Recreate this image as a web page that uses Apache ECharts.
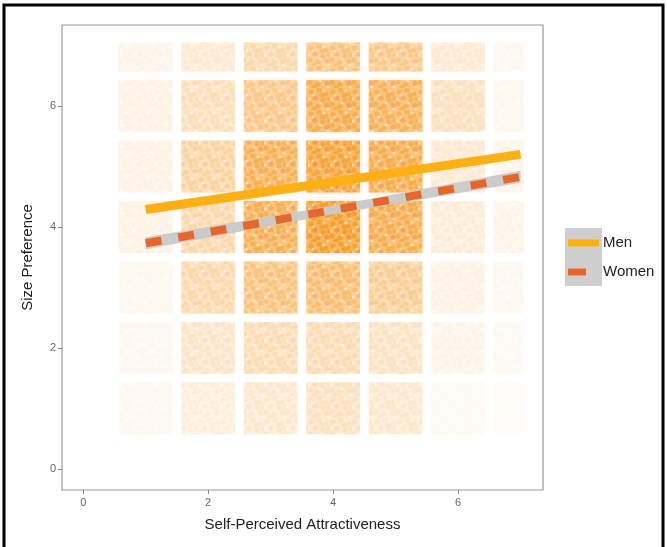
<!DOCTYPE html>
<html>
<head>
<meta charset="utf-8">
<script src="https://cdn.jsdelivr.net/npm/echarts@6/dist/echarts.min.js"></script>
<style>
html,body{margin:0;padding:0;background:#fff;}
#chart{width:667px;height:547px;}
</style>
</head>
<body>
<div id="chart"></div>
<script>
// ---- data ----
const attractivenessLevels = [1, 2, 3, 4, 5, 6, 7];   // x categories (jittered columns)
const preferenceLevels = [1, 2, 3, 4, 5, 6, 7];       // y categories (jittered rows)
// relative point density of each cell, rows = preference 1..7, cols = attractiveness 1..7
const densityRow1 = [0.07, 0.16, 0.22, 0.28, 0.22, 0.05, 0.04];
const densityRow2 = [0.07, 0.24, 0.32, 0.32, 0.26, 0.10, 0.06];
const densityRow3 = [0.08, 0.36, 0.55, 0.60, 0.45, 0.12, 0.07];
const densityRow4 = [0.12, 0.36, 0.72, 0.92, 0.75, 0.18, 0.10];
const densityRow5 = [0.12, 0.40, 0.72, 0.86, 0.76, 0.20, 0.10];
const densityRow6 = [0.12, 0.30, 0.50, 0.76, 0.70, 0.28, 0.08];
const densityRow7 = [0.10, 0.20, 0.36, 0.56, 0.50, 0.20, 0.07];
const densityRows = [densityRow1, densityRow2, densityRow3, densityRow4, densityRow5, densityRow6, densityRow7];

const fitX = [1, 7];
const menFit = [4.29, 5.20];
const womenFit = [3.73, 4.83];
const womenBandX = [1, 4, 7];
const womenBandLower = [3.63, 4.21, 4.73];
const womenBandUpper = [3.83, 4.35, 4.93];

const xTicks = [0, 2, 4, 6];
const yTicks = [0, 2, 4, 6];
const legendNames = ['Men', 'Women'];

// ---- build ----
const cellData = [];
preferenceLevels.forEach((py, r) => {
  attractivenessLevels.forEach((ax, c) => {
    cellData.push([ax, py, densityRows[r][c]]);
  });
});

const HALF = 0.43, EDGE = 7.05;

// dotted texture for the jittered point clouds (style only)
const pc = document.createElement('canvas');
pc.width = 22; pc.height = 22;
const g = pc.getContext('2d');
g.fillStyle = 'rgba(246,162,45,0.72)';
g.fillRect(0, 0, 22, 22);
const dots = [[3,4],[11,2],[18,6],[7,10],[15,12],[2,16],[10,18],[19,17],[6,21],[14,7],[21,11]];
dots.forEach(([dx, dy], i) => {
  g.beginPath();
  g.arc(dx, dy, 2.6, 0, Math.PI * 2);
  g.fillStyle = i % 4 === 3 ? 'rgba(232,110,50,0.5)' : 'rgba(240,145,25,0.65)';
  g.fill();
});
[[5,7],[16,3],[12,15],[20,21],[1,11]].forEach(([dx, dy]) => {
  g.beginPath();
  g.arc(dx, dy, 1.6, 0, Math.PI * 2);
  g.fillStyle = 'rgba(255,255,255,0.4)';
  g.fill();
});
const pattern = { image: pc, repeat: 'repeat' };

const chart = echarts.init(document.getElementById('chart'), null, { renderer: 'canvas' });

const FONT = 'Liberation Sans, Arial, sans-serif';
const axisCommon = {
  type: 'value',
  axisLine: { show: false, onZero: false },
  splitLine: { show: false },
  axisTick: { show: true, inside: false, length: 4, lineStyle: { color: '#888', width: 1 } },
  axisLabel: { color: '#666', fontSize: 11, fontFamily: FONT },
  nameLocation: 'middle',
  nameTextStyle: { color: '#222', fontSize: 15, fontFamily: FONT }
};

chart.setOption({
  animation: false,
  backgroundColor: '#fff',
  grid: { left: 62, right: 124, top: 25, bottom: 57, show: true, borderColor: '#999', borderWidth: 1.2, backgroundColor: 'transparent' },
  xAxis: Object.assign({}, axisCommon, {
    min: -0.34, max: 7.36,
    name: 'Self-Perceived Attractiveness', nameGap: 27,
    axisTick: Object.assign({}, axisCommon.axisTick, { customValues: xTicks }),
    axisLabel: Object.assign({}, axisCommon.axisLabel, { customValues: xTicks, margin: 7 })
  }),
  yAxis: Object.assign({}, axisCommon, {
    min: -0.35, max: 7.34,
    name: 'Size Preference', nameGap: 27,
    axisTick: Object.assign({}, axisCommon.axisTick, { customValues: yTicks }),
    axisLabel: Object.assign({}, axisCommon.axisLabel, { customValues: yTicks, margin: 6 })
  }),
  series: [
    {
      type: 'custom',
      data: cellData,
      z: 1,
      silent: true,
      renderItem: function (params, api) {
        const x = api.value(0), y = api.value(1), d = api.value(2);
        const x0 = x - HALF, x1 = Math.min(x + HALF, EDGE);
        const y0 = y - HALF, y1 = Math.min(y + HALF, EDGE);
        const p0 = api.coord([x0, y1]);
        const p1 = api.coord([x1, y0]);
        return {
          type: 'rect',
          shape: { x: p0[0], y: p0[1], width: p1[0] - p0[0], height: p1[1] - p0[1] },
          style: { fill: pattern, opacity: d, shadowBlur: 4, shadowColor: 'rgba(247,170,60,' + (0.6 * d) + ')' }
        };
      }
    },
    {
      type: 'custom',
      data: [0],
      z: 2,
      silent: true,
      renderItem: function (params, api) {
        const pts = [];
        womenBandX.forEach((x, i) => pts.push(api.coord([x, womenBandUpper[i]])));
        for (let i = womenBandX.length - 1; i >= 0; i--) pts.push(api.coord([womenBandX[i], womenBandLower[i]]));
        return { type: 'polygon', shape: { points: pts }, style: { fill: '#c9c9c9', opacity: 0.95 } };
      }
    },
    {
      name: 'Men', type: 'line', z: 3, silent: true, symbol: 'none',
      data: fitX.map((x, i) => [x, menFit[i]]),
      lineStyle: { color: '#fdb015', width: 9, cap: 'butt' }
    },
    {
      name: 'Women', type: 'line', z: 4, silent: true, symbol: 'none',
      data: fitX.map((x, i) => [x, womenFit[i]]),
      lineStyle: { color: '#e5672b', width: 8, type: [16, 17], cap: 'butt' }
    }
  ],
  graphic: [
    { type: 'rect', shape: { x: 4, y: 5, width: 659, height: 560 }, style: { fill: 'none', stroke: '#000', lineWidth: 3 }, silent: true, z: 100 },
    { type: 'rect', shape: { x: 565, y: 228, width: 37, height: 58 }, style: { fill: '#cfcfcf' }, silent: true },
    { type: 'line', shape: { x1: 568, y1: 243, x2: 599, y2: 243 }, style: { stroke: '#fdb015', lineWidth: 7 }, silent: true, z: 101 },
    { type: 'line', shape: { x1: 568, y1: 272, x2: 586, y2: 272 }, style: { stroke: '#e5672b', lineWidth: 7 }, silent: true, z: 101 },
    { type: 'text', x: 603, y: 243, style: { text: legendNames[0], fill: '#222', fontSize: 15, fontFamily: FONT, verticalAlign: 'middle' }, silent: true },
    { type: 'text', x: 603, y: 272, style: { text: legendNames[1], fill: '#222', fontSize: 15, fontFamily: FONT, verticalAlign: 'middle' }, silent: true }
  ]
});
</script>
</body>
</html>
